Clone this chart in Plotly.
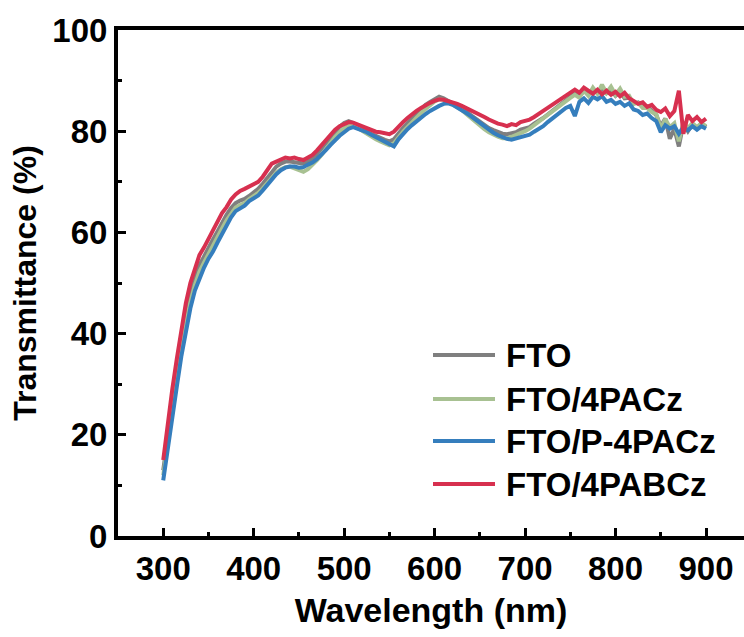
import plotly.graph_objects as go

wavelength = list(range(300, 905, 5))

names = ["FTO", "FTO/4PACz", "FTO/P-4PACz", "FTO/4PABCz"]
colors = ["#7f7f7f", "#a8c192", "#357ebd", "#d7304f"]

fto = [13.0, 20.0, 26.2, 32.2, 38.0, 43.0, 47.5, 51.0, 53.5, 55.3,
       57.0, 58.6, 60.2, 62.0, 63.5, 64.8, 65.8, 66.3, 66.6, 67.2,
       67.8, 68.6, 69.6, 70.8, 72.0, 73.0, 73.6, 74.0, 74.0, 73.8,
       73.6, 73.6, 74.0, 74.6, 75.5, 76.6, 77.8, 79.0, 80.0, 80.9,
       81.6, 82.0, 81.6, 81.0, 80.4, 79.9, 79.5, 79.0, 78.7, 78.3,
       78.0, 78.4, 79.6, 80.6, 81.6, 82.5, 83.4, 84.3, 85.2, 85.8,
       86.4, 86.8, 86.5, 86.0, 85.6, 85.0, 84.5, 83.9, 83.2, 82.5,
       81.8, 81.2, 80.6, 80.2, 79.8, 79.5, 79.4, 79.6, 79.8, 80.3,
       80.6, 80.8, 81.5, 82.0, 82.6, 83.3, 84.0, 84.7, 85.4, 86.0,
       86.8, 87.5, 86.9, 88.0, 87.3, 88.3, 87.6, 88.6, 87.5, 88.2,
       87.0, 87.8, 86.5, 86.6, 85.5, 85.7, 84.8, 84.9, 84.0, 83.2,
       81.0, 82.5, 78.5, 80.5, 77.0, 81.5, 80.0, 81.4, 80.6, 81.5,
       80.8]

fto_4pacz = [12.0, 18.5, 24.8, 30.8, 36.6, 41.8, 46.2, 49.6, 52.2, 54.0,
             55.8, 57.3, 59.0, 60.8, 62.4, 63.8, 64.9, 65.4, 65.8, 66.6,
             67.2, 67.8, 68.7, 69.8, 70.8, 71.8, 72.5, 72.9, 73.0, 72.6,
             72.2, 72.0, 72.5, 73.3, 74.3, 75.3, 76.6, 77.8, 78.9, 79.8,
             80.6, 81.1, 81.1, 80.6, 80.0, 79.4, 78.9, 78.4, 78.0, 77.6,
             77.2, 77.6, 78.8, 79.9, 80.8, 81.8, 82.7, 83.6, 84.4, 85.2,
             85.9, 86.3, 86.2, 85.8, 85.3, 84.8, 84.2, 83.4, 82.6, 81.9,
             81.1, 80.4, 79.8, 79.3, 78.9, 78.6, 78.6, 78.9, 79.2, 79.6,
             80.0, 80.5, 81.2, 81.8, 82.5, 83.2, 83.9, 84.6, 85.3, 86.0,
             86.6, 87.2, 86.6, 88.0, 87.0, 88.6, 87.4, 89.2, 87.6, 88.8,
             87.2, 88.4, 86.8, 87.0, 85.4, 85.6, 84.6, 84.6, 83.8, 83.4,
             80.5, 82.4, 80.8, 81.6, 78.0, 81.8, 80.6, 81.6, 80.8, 81.6,
             81.0]

fto_p4pacz = [11.0, 17.5, 23.5, 29.5, 35.5, 40.5, 45.0, 48.5, 51.0, 53.0,
              54.8, 56.2, 58.0, 59.8, 61.5, 63.0, 64.2, 64.8, 65.3, 66.2,
              66.8, 67.3, 68.3, 69.4, 70.4, 71.5, 72.3, 72.8, 73.0, 73.0,
              72.8, 72.9, 73.4, 73.8, 74.5, 75.3, 76.3, 77.3, 78.3, 79.1,
              79.8, 80.5, 80.8, 80.5, 80.1, 79.8, 79.3, 78.8, 78.4, 77.9,
              77.5, 77.0, 78.4, 79.5, 80.4, 81.2, 82.0, 82.8, 83.4, 84.0,
              84.6, 85.0, 85.4, 85.5, 85.2, 84.7, 84.3, 83.6, 83.0, 82.3,
              81.6, 80.9, 80.3, 79.7, 79.2, 78.8, 78.5, 78.3, 78.5, 78.8,
              79.0, 79.3, 79.9, 80.4, 81.0, 81.8, 82.5, 83.3, 84.0, 84.6,
              85.0, 83.0, 85.8, 86.5, 85.6, 86.8, 86.3, 86.9, 85.8, 86.2,
              85.4, 85.8, 85.0, 85.5, 84.3, 84.0, 83.2, 83.5, 82.6, 82.0,
              79.8, 81.2, 80.5, 81.0, 79.5, 80.8, 80.2, 81.0, 80.3, 81.0,
              80.5]

fto_4pabcz = [15.0, 22.5, 29.0, 35.0, 41.0, 46.0, 50.0, 53.0, 55.5, 57.0,
              58.8, 60.5, 62.2, 63.8, 65.0, 66.5, 67.5, 68.2, 68.6, 69.0,
              69.4, 70.0, 71.0, 72.3, 73.6, 74.0, 74.5, 74.8, 74.6, 74.8,
              74.5, 74.3, 74.8, 75.3, 76.2, 77.2, 78.3, 79.3, 80.3, 81.0,
              81.5, 81.8, 81.7, 81.3, 80.9, 80.5, 80.2, 79.9, 79.8, 79.6,
              79.4, 79.9, 81.0, 81.8, 82.6, 83.4, 84.0, 84.6, 85.2, 85.6,
              86.0, 86.3, 86.2, 86.0, 85.7, 85.4, 85.0, 84.6, 84.1, 83.6,
              83.2, 82.8, 82.3, 81.8, 81.5, 81.3, 81.0, 81.4, 81.2, 81.8,
              82.0, 82.3, 82.8, 83.3, 84.0, 84.6, 85.2, 85.8, 86.3, 87.0,
              87.4, 88.2, 87.6, 88.6, 88.0, 87.4, 88.2, 87.3, 88.0, 87.2,
              87.8, 86.9, 87.6, 86.5, 86.0, 85.4, 85.7, 84.8, 85.2, 84.2,
              83.8, 84.5, 83.0, 84.0, 88.0, 79.5, 83.2, 82.0, 82.8, 81.8,
              82.5]

series = [fto, fto_4pacz, fto_p4pacz, fto_4pabcz]

FONT = "Liberation Sans, Arial, Helvetica, sans-serif"

fig = go.Figure()
for name, col, ys in zip(names, colors, series):
    fig.add_trace(go.Scatter(x=wavelength, y=ys, mode="lines", name=name,
                             line=dict(color=col, width=4), showlegend=False))

# custom legend (long line samples like the original)
leg_x0, leg_x1, leg_tx = 433, 495, 504
leg_y = [355, 399, 441, 484]
W, H = 744, 637
for name, col, yy in zip(names, colors, leg_y):
    fig.add_shape(type="line", xref="paper", yref="paper",
                  x0=(leg_x0 - 118) / (W - 118), x1=(leg_x1 - 118) / (W - 118),
                  y0=(536 - yy) / (536 - 30), y1=(536 - yy) / (536 - 30),
                  line=dict(color=col, width=4))
    fig.add_annotation(xref="paper", yref="paper",
                       x=(leg_tx - 118) / (W - 118), y=(536 - yy) / (536 - 30),
                       text=name, showarrow=False, xanchor="left", yanchor="middle",
                       font=dict(family=FONT, size=33, color="black", weight="bold"))

axis_common = dict(
    showgrid=False, zeroline=False, showline=True, linecolor="black", linewidth=4,
    ticks="inside", tickcolor="black", tickwidth=3, ticklen=8,
    tickfont=dict(family=FONT, size=33, color="black", weight="bold"),
)

fig.update_xaxes(range=[250, 942], dtick=100, tick0=0, mirror=True,
                 minor=dict(ticks="inside", ticklen=4, tickwidth=3, dtick=50, tick0=0,
                            tickcolor="black"),
                 title_text="Wavelength (nm)", title_standoff=14,
                 title_font=dict(family=FONT, size=34, color="black", weight="bold"),
                 **axis_common)
fig.update_yaxes(range=[0, 100], dtick=20, tick0=0, mirror=False,
                 minor=dict(ticks="inside", ticklen=4, tickwidth=3, dtick=10, tick0=0,
                            tickcolor="black"),
                 title_text="Transmittance (%)", title_standoff=7,
                 title_font=dict(family=FONT, size=32, color="black", weight="bold"),
                 **axis_common)

fig.update_layout(width=W, height=H, margin=dict(l=118, r=0, t=30, b=101),
                  plot_bgcolor="white", paper_bgcolor="white",
                  font=dict(family=FONT, color="black"))

fig.write_html("out.html")
